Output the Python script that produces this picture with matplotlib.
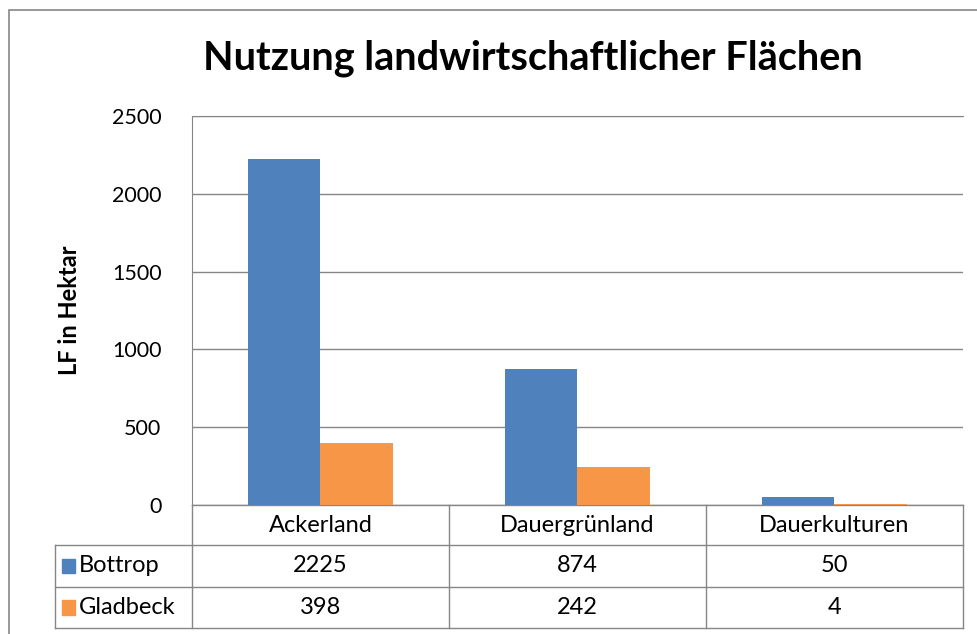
import matplotlib.pyplot as plt
from matplotlib.patches import Rectangle

plt.rcParams['font.family'] = ['Lato', 'DejaVu Sans']

categories = ['Ackerland', 'Dauergrünland', 'Dauerkulturen']
bottrop = [2225, 874, 50]
gladbeck = [398, 242, 4]
series_names = ['Bottrop', 'Gladbeck']
colors = ['#4F81BD', '#F79646']
yticks = [0, 500, 1000, 1500, 2000, 2500]

W, H = 978, 634
fig = plt.figure(figsize=(W / 100, H / 100), dpi=100)

# outer chart frame (runs off the right/bottom edge like the screenshot)
fig.patches.append(Rectangle((9 / W, -0.1), 1.2, 1 - 10 / H + 0.1, transform=fig.transFigure,
                             fill=False, edgecolor='#868686', lw=1.2))

left, right, top, bottom = 192, 963, 116, 505
ax = fig.add_axes([left / W, 1 - bottom / H, (right - left) / W, (bottom - top) / H])

x = range(len(categories))
bw = 0.284
ax.bar([i - bw / 2 for i in x], bottrop, bw, color=colors[0], zorder=3)
ax.bar([i + bw / 2 for i in x], gladbeck, bw, color=colors[1], zorder=3)

ax.set_xlim(-0.5, len(categories) - 0.5)
ax.set_ylim(0, 2500)
ax.set_yticks(yticks)
ax.set_yticklabels([str(v) for v in yticks], fontsize=15.5)
ax.tick_params(axis='y', length=0, pad=22)
ax.set_xticks([])
ax.yaxis.grid(True, color='#868686', lw=1)
ax.set_axisbelow(True)
for s in ['right', 'bottom']:
    ax.spines[s].set_visible(False)
ax.spines['top'].set_color('#868686')
ax.spines['left'].set_color('#868686')

ax.set_ylabel('LF in Hektar', fontsize=17, fontweight='bold', labelpad=22)

fig.text(533 / W, 1 - 58 / H, 'Nutzung landwirtschaftlicher Flächen',
         fontsize=28.5, fontweight='bold', ha='center', va='center')

# data table below the axes
ph = bottom - top
rows = [505, 545, 587, 628]
def fy(py):
    return (bottom - py) / ph

tkw = dict(transform=ax.get_xaxis_transform(), clip_on=False, color='#868686', lw=1)
ax.plot([-0.5, 2.5], [fy(rows[0])] * 2, **tkw)
colw = (right - left) / 3
tab_left = -0.5 - (left - 55) / colw
for r in rows[1:]:
    ax.plot([tab_left, 2.5], [fy(r)] * 2, **tkw)
for xv in [-0.5, 0.5, 1.5, 2.5]:
    ax.plot([xv, xv], [fy(rows[0]), fy(rows[-1])], **tkw)
ax.plot([tab_left, tab_left], [fy(rows[1]), fy(rows[-1])], **tkw)

for i, c in enumerate(categories):
    ax.text(i, fy((rows[0] + rows[1]) / 2), c, transform=ax.get_xaxis_transform(),
            ha='center', va='center', fontsize=17)

for k, vals in enumerate([bottrop, gladbeck]):
    yc = fy((rows[k + 1] + rows[k + 2]) / 2)
    for i, v in enumerate(vals):
        ax.text(i, yc, str(v), transform=ax.get_xaxis_transform(),
                ha='center', va='center', fontsize=17)
    ax.add_patch(Rectangle((tab_left + 7 / colw, yc - 0.019), 13 / colw, 0.038,
                           transform=ax.get_xaxis_transform(), clip_on=False,
                           color=colors[k]))
    ax.text(tab_left + 24 / colw, yc, series_names[k], transform=ax.get_xaxis_transform(),
            ha='left', va='center', fontsize=17)

fig.savefig('out.png', dpi=100)
